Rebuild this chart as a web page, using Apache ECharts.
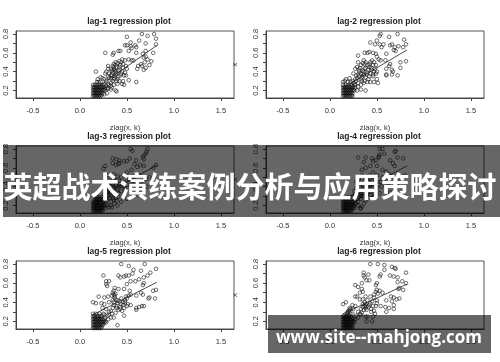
<!DOCTYPE html>
<html><head><meta charset="utf-8">
<style>html,body{margin:0;padding:0;background:#fff}#c{width:500px;height:362px;filter:blur(0.35px)}</style>
<script src="https://cdn.jsdelivr.net/npm/echarts@6/dist/echarts.min.js"></script>
</head><body><div id="c"></div>
<script>
const titles=["lag-1 regression plot","lag-2 regression plot","lag-3 regression plot","lag-4 regression plot","lag-5 regression plot","lag-6 regression plot"];
const xTicks=[-0.5,0,0.5,1,1.5];
const xTickLabels=["-0.5","0.0","0.5","1.0","1.5"];
const yTicks=[0.2,0.3,0.4,0.5,0.6,0.7,0.8];
const yLabels=[0.2,0.4,0.6,0.8];
const xName="zlag(x, k)";
const yName="x";
const bannerTitle="英超战术演练案例分析与应用策略探讨";
const bannerSite="www.site--mahjong.com";
const clump1=[.14,.14,.16,.14,.18,.14,.2,.14,.22,.14,.14,.17,.16,.17,.18,.17,.2,.17,.22,.17,.24,.17,.14,.2,.16,.2,.18,.2,.2,.2,.22,.2,.24,.2,.26,.2,.14,.23,.16,.23,.18,.23,.2,.23,.22,.23,.24,.23,.14,.26,.16,.26,.18,.26,.2,.26,.22,.26,.24,.26,.26,.26,.18,.29,.2,.29,.22,.29,.19,.32];
const clump2=[.14,.14,.16,.14,.18,.14,.2,.14,.22,.14,.24,.14,.14,.17,.16,.17,.18,.17,.2,.17,.22,.17,.24,.17,.14,.2,.16,.2,.18,.2,.2,.2,.22,.2,.24,.2,.26,.2,.14,.23,.16,.23,.18,.23,.2,.23,.22,.23,.24,.23,.27,.23,.14,.26,.17,.26,.2,.26,.23,.26,.26,.26,.14,.29,.19,.29,.22,.29,.25,.28];
const clump3=[.14,.14,.16,.14,.18,.14,.2,.14,.22,.14,.24,.14,.14,.17,.16,.17,.18,.17,.2,.17,.22,.17,.24,.17,.27,.17,.14,.2,.16,.2,.18,.2,.2,.2,.22,.2,.24,.2,.26,.2,.29,.2,.14,.23,.16,.23,.18,.23,.2,.23,.22,.23,.24,.23,.16,.26,.18,.26,.2,.26,.22,.26,.18,.29,.2,.29,.24,.26,.27,.25,.31,.18,.34,.18,.33,.2];
const clump4=[.14,.14,.16,.14,.18,.14,.2,.14,.22,.14,.14,.17,.16,.17,.18,.17,.2,.17,.22,.17,.24,.17,.26,.17,.14,.2,.16,.2,.18,.2,.2,.2,.22,.2,.24,.2,.26,.2,.14,.23,.16,.23,.18,.23,.2,.23,.22,.23,.24,.23,.27,.23,.14,.26,.17,.26,.2,.26,.23,.26,.27,.26,.3,.24,.19,.29,.24,.29,.3,.2,.33,.17];
const clump5=[.14,.13,.16,.13,.18,.13,.2,.13,.22,.13,.14,.16,.16,.16,.18,.16,.2,.16,.22,.16,.24,.16,.14,.19,.16,.19,.18,.19,.2,.19,.22,.19,.24,.19,.26,.19,.28,.19,.14,.22,.16,.22,.18,.22,.2,.22,.22,.22,.24,.22,.26,.22,.14,.25,.16,.25,.18,.25,.2,.25,.22,.25,.14,.28,.17,.28,.21,.28,.25,.28];
const clump6=[.14,.13,.16,.13,.18,.13,.2,.13,.22,.13,.24,.13,.14,.16,.16,.16,.18,.16,.2,.16,.22,.16,.24,.16,.14,.19,.16,.19,.18,.19,.2,.19,.22,.19,.24,.19,.26,.19,.14,.22,.16,.22,.18,.22,.2,.22,.22,.22,.24,.22,.14,.25,.16,.25,.18,.25,.2,.25,.22,.25,.24,.28,.18,.28,.2,.31,.21,.34,.19,.29];
const dense1=[.15,.15,.17,.15,.19,.15,.21,.15,.23,.15,.15,.18,.17,.18,.19,.18,.21,.18,.23,.18,.15,.21,.17,.21,.19,.21,.21,.21,.23,.21,.25,.21,.15,.24,.17,.24,.19,.24,.21,.24,.23,.24,.25,.24,.27,.21,.28,.25,.29,.22,.31,.26,.33,.28,.35,.3,.37,.33,.31,.33,.33,.36,.35,.39,.37,.42,.39,.38,.41,.41,.43,.36,.45,.4,.34,.41,.36,.44,.38,.47,.4,.49,.42,.45,.44,.5,.46,.48,.5,.43,.48,.39,.37,.35,.4,.32];
const dense2=[.15,.15,.17,.15,.19,.15,.21,.15,.23,.15,.15,.18,.17,.18,.19,.18,.21,.18,.23,.18,.15,.21,.17,.21,.19,.21,.21,.21,.23,.21,.25,.21,.15,.24,.17,.24,.19,.24,.21,.24,.23,.24,.25,.24,.27,.26,.28,.3,.29,.33,.3,.37,.31,.4,.32,.44,.34,.34,.35,.38,.36,.4,.37,.43,.38,.34,.4,.39,.41,.42,.43,.38,.44,.44,.46,.37,.48,.43,.35,.49,.37,.48,.4,.47,.43,.5,.46,.47,.34,.3,.36,.28,.41,.32];
const dense3=[.15,.15,.17,.15,.19,.15,.21,.15,.23,.15,.15,.18,.17,.18,.19,.18,.21,.18,.23,.18,.25,.18,.15,.21,.17,.21,.19,.21,.21,.21,.23,.21,.25,.21,.27,.21,.15,.24,.17,.24,.19,.24,.21,.24,.23,.24,.17,.27,.19,.27,.21,.27,.23,.27,.25,.27,.28,.28,.3,.31,.32,.33,.34,.35,.36,.39,.38,.41,.4,.38,.42,.43,.44,.41,.46,.43,.48,.38,.35,.43,.37,.48,.31,.36,.33,.3,.35,.28,.29,.25,.38,.28,.41,.33];
const dense4=[.15,.15,.17,.15,.19,.15,.21,.15,.23,.15,.15,.18,.17,.18,.19,.18,.21,.18,.23,.18,.25,.18,.15,.21,.17,.21,.19,.21,.21,.21,.23,.21,.25,.21,.15,.24,.17,.24,.19,.24,.21,.24,.23,.24,.25,.24,.28,.22,.29,.27,.26,.28,.31,.29,.33,.32,.35,.33,.37,.38,.39,.36,.41,.37,.43,.42,.45,.38,.47,.43,.49,.41,.35,.41,.37,.43,.39,.48,.41,.44,.43,.48,.33,.3,.36,.31,.4,.33,.44,.28,.48,.36,.52,.42];
const dense5=[.15,.14,.17,.14,.19,.14,.21,.14,.23,.14,.15,.17,.17,.17,.19,.17,.21,.17,.23,.17,.25,.17,.15,.2,.17,.2,.19,.2,.21,.2,.23,.2,.25,.2,.27,.2,.15,.23,.17,.23,.19,.23,.21,.23,.23,.23,.27,.24,.15,.26,.19,.26,.23,.26,.26,.27,.29,.26,.31,.27,.33,.31,.35,.34,.36,.4,.37,.45,.38,.43,.4,.39,.42,.41,.44,.38,.46,.37,.48,.42,.5,.44,.52,.47,.35,.5,.36,.48,.37,.47,.39,.34,.41,.32,.43,.33,.48,.4];
const dense6=[.15,.14,.17,.14,.19,.14,.21,.14,.23,.14,.15,.17,.17,.17,.19,.17,.21,.17,.23,.17,.15,.2,.17,.2,.19,.2,.21,.2,.23,.2,.25,.2,.15,.23,.17,.23,.19,.23,.21,.23,.23,.23,.25,.23,.15,.26,.18,.26,.2,.27,.22,.28,.19,.3,.21,.32,.27,.22,.28,.26,.3,.24,.32,.28,.33,.33,.35,.35,.37,.36,.38,.34,.39,.36,.41,.35,.43,.39,.45,.41,.47,.48,.49,.51,.37,.4,.4,.42,.35,.38,.44,.33,.47,.31,.5,.39];
const uppers=[[.66,.80,.72,.78,.79,.80,.50,.77,.81,.75,.63,.73,.54,.71,.70,.70,.81,.69,.48,.68,.50,.68,.54,.67,.55,.65,.59,.68,.60,.66,.27,.60,.36,.60,.35,.58,.41,.62,.43,.62,.52,.62,.60,.60,.70,.62,.78,.60,.67,.59,.70,.56,.68,.55,.72,.53,.76,.51,.69,.50,.65,.48,.62,.46,.66,.46,.70,.44,.74,.47,.61,.43,.68,.42,.55,.52,.52,.53,.57,.52,.48,.52,.45,.53,.42,.51,.38,.50,.36,.48,.35,.46,.39,.45,.43,.47,.46,.44,.49,.46,.30,.46,.33,.43,.30,.43,.28,.40,.27,.38,.17,.40,.36,.42,.38,.40,.42,.42,.44,.38,.47,.36,.49,.36,.41,.35,.38,.37,.34,.37,.31,.38,.30,.35,.33,.33,.36,.32,.39,.30,.42,.30,.46,.30,.52,.31,.60,.29,.45,.27,.47,.26,.40,.27,.36,.26,.33,.25,.30,.27,.28,.30,.26,.32,.24,.33,.22,.34,.38,.20,.39,.19,.33,.21,.30,.22,.27,.23,.34,.23,.29,.17,.26,.16],
[.54,.80,.53,.78,.72,.80,.63,.77,.79,.74,.43,.71,.50,.73,.48,.69,.53,.69,.57,.69,.64,.68,.66,.69,.69,.66,.81,.69,.78,.66,.73,.67,.55,.66,.42,.61,.40,.60,.37,.60,.30,.57,.46,.60,.49,.59,.60,.59,.70,.62,.68,.63,.50,.56,.52,.53,.54,.52,.59,.52,.64,.48,.81,.51,.75,.50,.63,.46,.60,.43,.66,.42,.67,.40,.75,.44,.72,.36,.60,.36,.66,.37,.60,.37,.30,.50,.33,.47,.36,.52,.38,.50,.42,.48,.45,.52,.47,.50,.49,.47,.29,.45,.27,.43,.31,.42,.35,.41,.38,.44,.42,.45,.44,.42,.47,.40,.50,.40,.33,.38,.36,.36,.39,.37,.42,.35,.46,.35,.49,.38,.25,.38,.28,.36,.31,.35,.33,.32,.37,.30,.40,.29,.43,.29,.47,.29,.50,.32,.51,.28,.27,.32,.24,.30,.21,.33,.17,.32,.16,.30,.30,.28,.33,.26,.30,.24,.38,.20,.33,.21,.29,.20],
[.54,.80,.56,.78,.72,.80,.71,.77,.70,.75,.68,.73,.67,.71,.68,.69,.35,.70,.39,.69,.42,.68,.42,.65,.47,.67,.50,.67,.53,.70,.60,.68,.35,.65,.38,.63,.41,.64,.27,.62,.25,.59,.58,.64,.61,.61,.64,.63,.81,.63,.78,.60,.68,.62,.55,.58,.50,.55,.29,.52,.33,.50,.36,.53,.40,.51,.44,.50,.48,.52,.58,.50,.63,.52,.70,.48,.74,.50,.66,.46,.60,.45,.56,.46,.52,.47,.47,.45,.42,.46,.37,.46,.33,.44,.29,.42,.26,.40,.30,.38,.34,.40,.38,.42,.42,.40,.46,.40,.50,.42,.54,.40,.60,.38,.65,.38,.71,.40,.36,.37,.40,.36,.44,.35,.48,.34,.55,.33,.62,.31,.30,.34,.33,.33,.37,.31,.41,.29,.46,.29,.50,.27,.26,.32,.28,.30,.32,.28,.36,.26,.39,.25,.44,.24,.33,.24,.37,.22,.40,.2],
[.53,.80,.56,.80,.70,.78,.53,.74,.58,.75,.69,.77,.52,.71,.30,.71,.38,.71,.45,.70,.46,.67,.49,.68,.52,.72,.64,.68,.72,.71,.78,.70,.36,.66,.43,.62,.50,.62,.38,.60,.67,.65,.69,.62,.34,.58,.56,.58,.60,.56,.63,.53,.80,.52,.74,.50,.68,.50,.56,.50,.50,.52,.46,.55,.42,.52,.38,.50,.34,.52,.31,.48,.28,.45,.33,.44,.37,.46,.41,.46,.45,.47,.49,.45,.54,.45,.60,.46,.65,.45,.71,.43,.62,.41,.55,.40,.50,.38,.46,.40,.41,.40,.37,.41,.32,.40,.28,.38,.26,.35,.30,.35,.34,.36,.38,.35,.42,.34,.47,.33,.53,.33,.64,.34,.28,.31,.31,.31,.35,.30,.39,.30,.43,.31,.47,.29,.25,.30,.33,.27,.38,.25,.36,.22,.34,.19,.32,.17],
[.44,.80,.52,.78,.69,.80,.57,.74,.65,.73,.81,.75,.75,.71,.72,.68,.25,.68,.41,.68,.43,.66,.47,.67,.49,.68,.52,.68,.56,.70,.63,.64,.68,.66,.59,.62,.54,.62,.50,.59,.68,.60,.67,.58,.31,.62,.28,.62,.28,.59,.29,.57,.81,.53,.78,.52,.80,.44,.74,.45,.73,.44,.37,.55,.36,.52,.41,.54,.47,.54,.53,.52,.54,.48,.60,.47,.65,.50,.67,.48,.20,.46,.26,.45,.30,.46,.34,.47,.38,.49,.44,.44,.49,.46,.14,.40,.17,.39,.23,.39,.26,.38,.31,.40,.35,.42,.40,.42,.46,.40,.51,.38,.54,.37,.36,.37,.39,.36,.43,.35,.47,.34,.50,.36,.60,.34,.63,.35,.66,.36,.68,.36,.60,.32,.24,.34,.28,.33,.31,.30,.34,.28,.38,.29,.45,.31,.47,.26,.40,.16,.33,.24,.30,.22,.36,.24],
[.43,.80,.51,.80,.58,.79,.66,.77,.70,.75,.69,.76,.58,.74,.36,.71,.36,.68,.37,.66,.41,.69,.54,.69,.39,.63,.42,.63,.53,.67,.64,.68,.68,.67,.72,.66,.81,.71,.77,.62,.81,.60,.72,.61,.27,.58,.30,.56,.34,.60,.50,.60,.49,.58,.73,.54,.78,.53,.74,.55,.34,.54,.35,.51,.32,.50,.29,.46,.27,.46,.32,.43,.35,.43,.38,.46,.43,.46,.50,.53,.53,.52,.56,.50,.51,.49,.47,.45,.60,.42,.65,.46,.68,.45,.71,.43,.74,.44,.66,.41,.50,.42,.14,.38,.17,.40,.24,.37,.27,.36,.38,.38,.42,.37,.46,.36,.49,.36,.54,.36,.59,.35,.63,.34,.68,.33,.68,.37,.60,.30,.39,.32,.36,.32,.34,.29,.44,.30,.48,.28,.46,.25,.38,.25,.40,.25,.33,.27,.30,.30,.25,.33,.22,.33,.45,.20,.39,.20]];
const clumps=[clump1,clump2,clump3,clump4,clump5,clump6];
const denses=[dense1,dense2,dense3,dense4,dense5,dense6];
const fitLines=[[.14,.2,.82,.68],[.14,.23,.82,.63],[.14,.25,.82,.63],[.14,.26,.82,.62],[.14,.27,.82,.61],[.14,.28,.82,.59]];

const rowTop=[31,146,261], rowH=[67,67,68], colLeft=[16,266], gW=218;
const titleTop=[12,127,242];
const fam='"Liberation Sans",Arial,sans-serif';
const pairs=a=>{const o=[];for(let i=0;i<a.length;i+=2)o.push([a[i],a[i+1]]);return o;};
const grid=[],xAxis=[],yAxis=[],series=[],title=[];
titles.forEach((t,i)=>{
  const r=Math.floor(i/2),c=i%2;
  grid.push({left:colLeft[c],top:rowTop[r],width:gW,height:rowH[r],show:true,borderColor:'#555',borderWidth:1,backgroundColor:'transparent'});
  title.push({text:t,left:colLeft[c]+gW/2-1,textAlign:'center',top:titleTop[r],textStyle:{fontFamily:fam,fontSize:8.5,fontWeight:'bold',color:'#222'}});
  xAxis.push({type:'value',gridIndex:i,min:-0.68,max:1.64,splitLine:{show:false},
    name:r<2?xName:'',nameLocation:'middle',nameGap:26,nameTextStyle:{fontFamily:fam,fontSize:7.5,color:'#333'},
    axisLine:{show:true,onZero:false,lineStyle:{color:'#444'}},
    axisTick:{show:true,length:3,customValues:xTicks,lineStyle:{color:'#444'}},
    axisLabel:{customValues:xTicks,fontFamily:fam,fontSize:7.5,color:'#333',margin:9,hideOverlap:false,formatter:v=>xTickLabels[xTicks.indexOf(+(+v).toFixed(1))]||''}});
  yAxis.push({type:'value',gridIndex:i,min:0.12,max:0.832,splitLine:{show:false},
    name:c===1?yName:'',nameLocation:'middle',nameGap:27,nameTextStyle:{fontFamily:fam,fontSize:7.5,color:'#333'},
    axisLine:{show:true,onZero:false,lineStyle:{color:'#444'}},
    axisTick:{show:true,length:3,customValues:yTicks,lineStyle:{color:'#444'}},
    axisLabel:{customValues:yLabels,rotate:90,fontFamily:fam,fontSize:7.5,color:'#333',margin:6,formatter:v=>(+v).toFixed(1)}});
  series.push({type:'scatter',xAxisIndex:i,yAxisIndex:i,symbol:'circle',symbolSize:3.6,silent:true,
    itemStyle:{color:'transparent',borderColor:'#111',borderWidth:.75},data:pairs(uppers[i].concat(clumps[i],denses[i]))});
  const f=fitLines[i];
  series.push({type:'line',xAxisIndex:i,yAxisIndex:i,symbol:'none',silent:true,lineStyle:{color:'#222',width:.8},data:[[f[0],f[1]],[f[2],f[3]]]});
});
const chart=echarts.init(document.getElementById('c'),null,{width:500,height:362});
chart.setOption({animation:false,backgroundColor:'#fff',title,grid,xAxis,yAxis,series,
  graphic:[
    {type:'rect',z:100,shape:{x:3,y:145,width:497,height:72},style:{fill:'rgba(0,0,0,0.6)'}},
    {type:'text',z:101,x:250,y:187,style:{text:bannerTitle,fill:'#fff',font:'bold 29px "Noto Sans CJK SC"',textAlign:'center',textVerticalAlign:'middle'}},
    {type:'rect',z:100,shape:{x:268,y:315,width:223,height:38},style:{fill:'rgba(0,0,0,0.6)'}},
    {type:'text',z:101,x:379,y:338,style:{text:bannerSite,fill:'#fff',font:'bold 17px "Open Sans"',textAlign:'center',textVerticalAlign:'middle'}}
  ]});
</script></body></html>
